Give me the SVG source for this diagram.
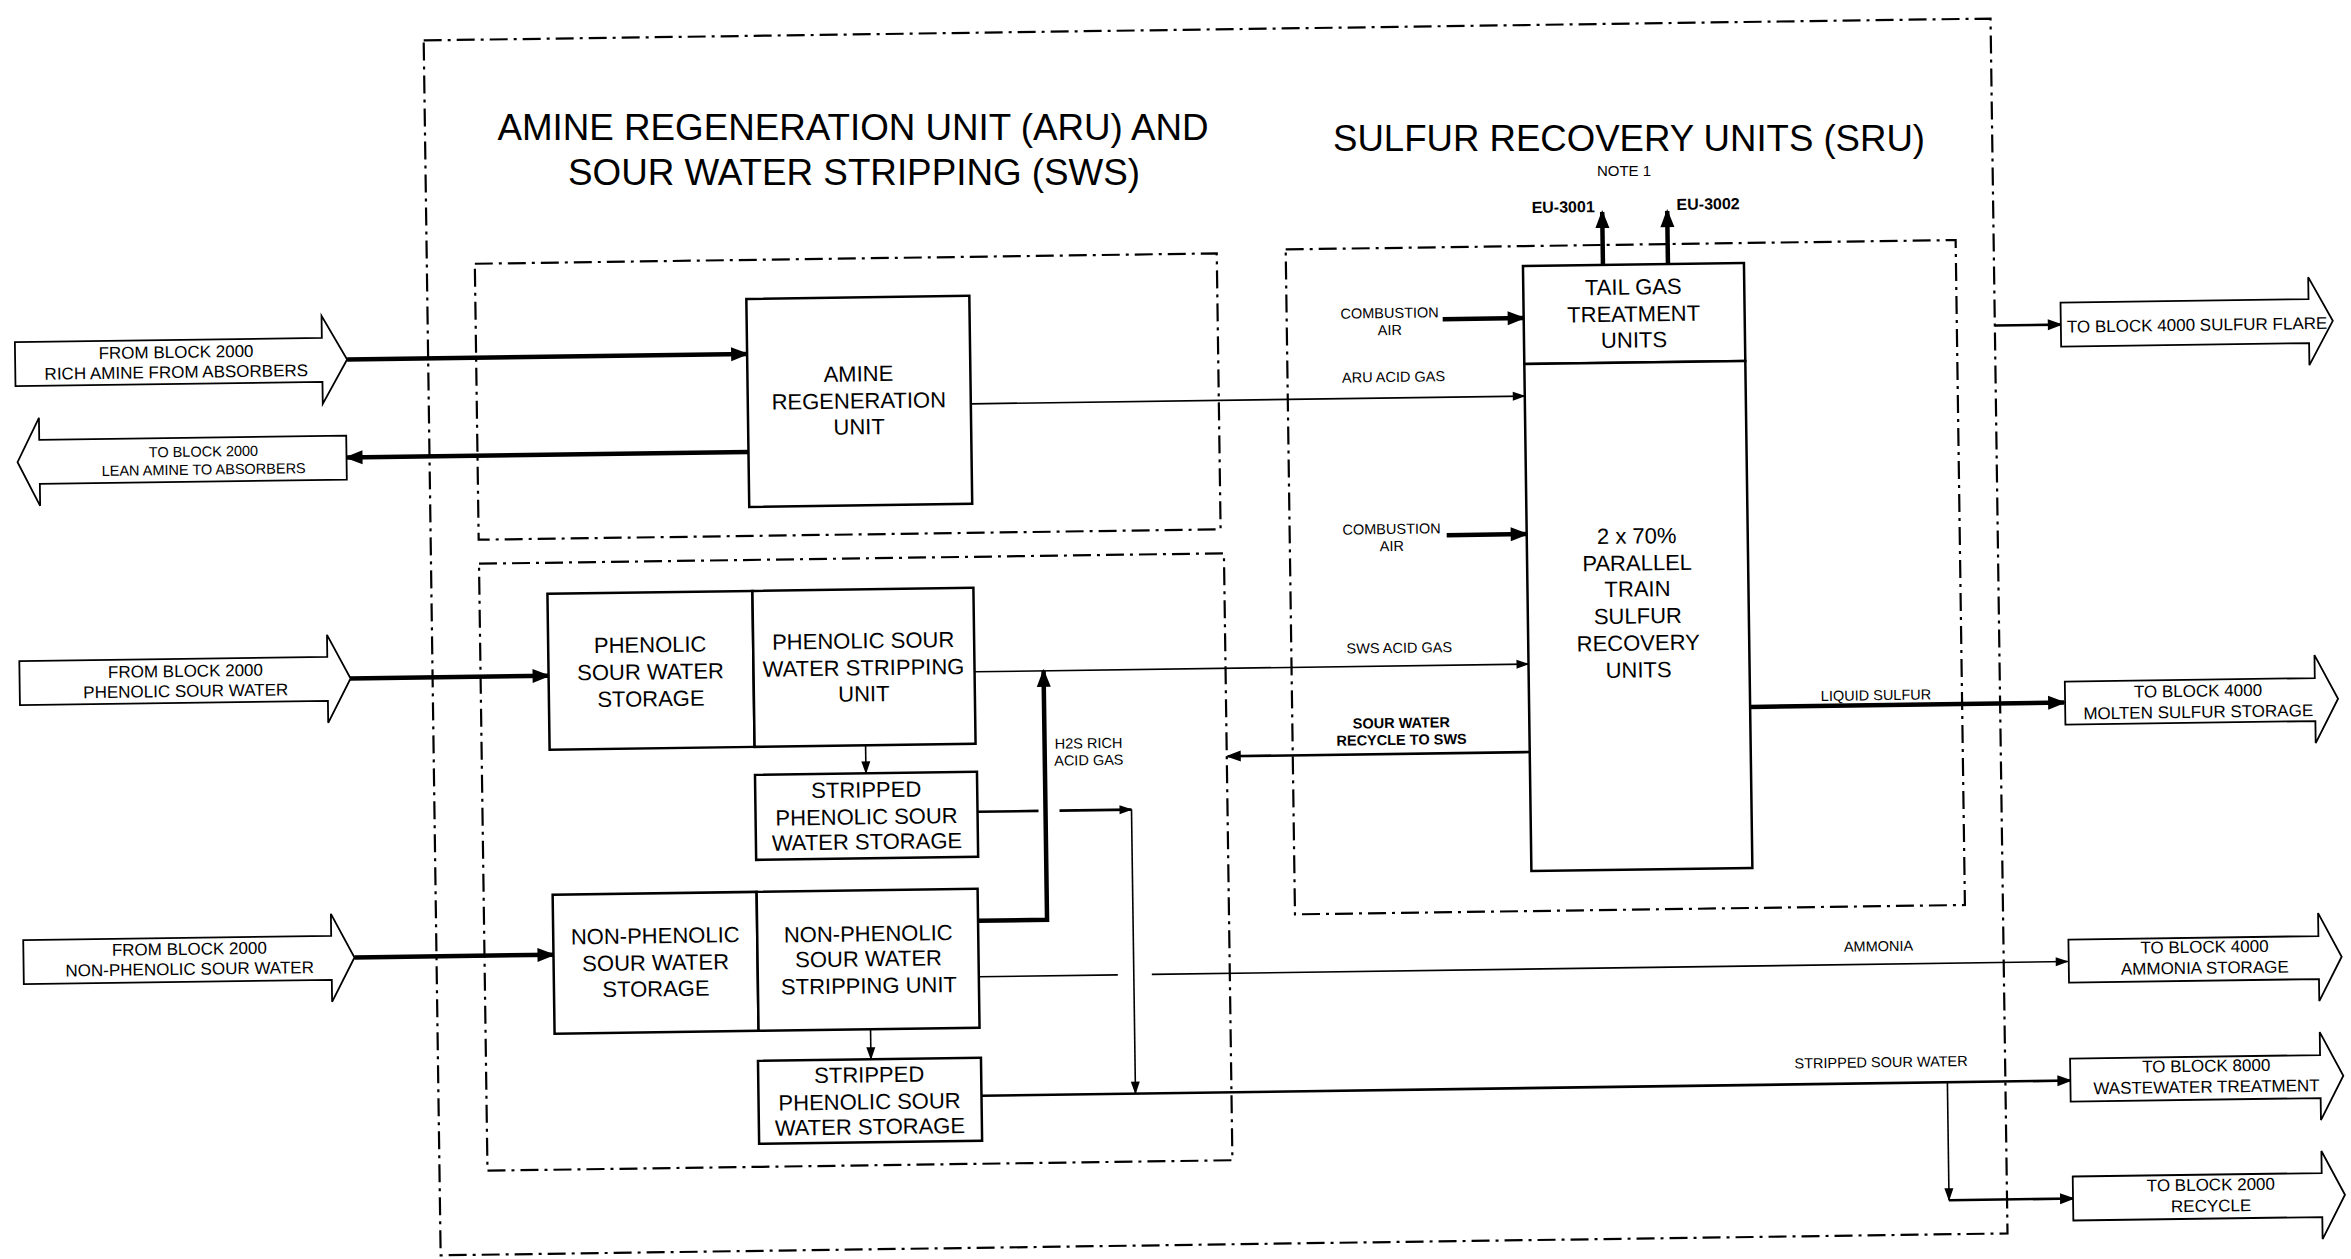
<svg xmlns="http://www.w3.org/2000/svg" width="2351" height="1259" viewBox="0 0 2351 1259">
<style>
.box{fill:#fff;stroke:#000;stroke-width:2.5}
.arr{fill:#fff;stroke:#000;stroke-width:1.8;stroke-linejoin:miter}
.dd{fill:none;stroke:#000;stroke-width:2.2;stroke-dasharray:18 6 3 6}
.thick{fill:none;stroke:#000;stroke-width:4.5}
.med{fill:none;stroke:#000;stroke-width:2.6}
.thin{fill:none;stroke:#000;stroke-width:1.6}
text{font-family:"Liberation Sans",Arial,sans-serif;fill:#000;text-anchor:middle}
.b{font-size:22px}
.a{font-size:17px}
.s{font-size:14.5px}
.sb{font-size:14.5px;font-weight:bold}
.ttl{font-size:37px}
</style>
<defs>
<marker id="hk" markerUnits="userSpaceOnUse" markerWidth="20" markerHeight="14" refX="16" refY="7" orient="auto" overflow="visible"><path d="M0,0 L18,7 L0,14 z" fill="#000"/></marker>
<marker id="hm" markerUnits="userSpaceOnUse" markerWidth="16" markerHeight="11" refX="13" refY="5.5" orient="auto" overflow="visible"><path d="M0,0 L15,5.5 L0,11 z" fill="#000"/></marker>
<marker id="hs" markerUnits="userSpaceOnUse" markerWidth="14" markerHeight="9" refX="12" refY="4.5" orient="auto" overflow="visible"><path d="M0,0 L13,4.5 L0,9 z" fill="#000"/></marker>
</defs>
<rect width="2351" height="1259" fill="#fff"/>
<g id="titles">
<text class="ttl" x="853" y="140" textLength="711" lengthAdjust="spacingAndGlyphs">AMINE REGENERATION UNIT (ARU) AND</text>
<text class="ttl" x="854" y="185" textLength="572" lengthAdjust="spacingAndGlyphs">SOUR WATER STRIPPING (SWS)</text>
<text class="ttl" x="1629" y="151" textLength="592" lengthAdjust="spacingAndGlyphs">SULFUR RECOVERY UNITS (SRU)</text>
<text style="font-size:15px" x="1624" y="176">NOTE 1</text>
</g>
<g id="diagram" transform="rotate(-0.8 1175 630)">
<g id="boundaries">
<rect id="outer-boundary" class="dd" x="432" y="30" width="1567" height="1215"/>
<rect id="aru-boundary" class="dd" x="480" y="254" width="742" height="276"/>
<rect id="sws-boundary" class="dd" x="480" y="554" width="745" height="607"/>
<rect id="sru-boundary" class="dd" x="1291" y="251" width="670" height="665"/>
</g>
<g id="connectors">
<path class="thick" d="M351,348 H751" marker-end="url(#hk)"/>
<path class="thick" d="M751,446 H349" marker-end="url(#hk)"/>
<path class="thick" d="M349,667 H548" marker-end="url(#hk)"/>
<path class="thick" d="M350,946 H549" marker-end="url(#hk)"/>
<path class="thin" d="M974,401 H1528" marker-end="url(#hs)"/>
<path class="thin" d="M974,669 H1528" marker-end="url(#hs)"/>
<path class="thick" d="M1447,323 H1528" marker-end="url(#hk)"/>
<path class="thick" d="M1448,539 H1528" marker-end="url(#hk)"/>
<path class="med" d="M1528,757 H1226" marker-end="url(#hm)"/>
<path class="thick" d="M1749,715 H2063" marker-end="url(#hk)"/>
<path class="med" d="M1999,337 H2065" marker-end="url(#hm)"/>
<path class="thick" d="M1608,271 V218" marker-end="url(#hk)"/>
<path class="thick" d="M1673,271 V218" marker-end="url(#hk)"/>
<path class="thick" d="M974,918 H1043 V669" marker-end="url(#hk)"/>
<path class="thin" d="M864,741 V769" marker-end="url(#hs)"/>
<path class="thin" d="M865,1025 V1055" marker-end="url(#hs)"/>
<path class="med" d="M975,809 H1036"/>
<path class="med" d="M1057,809 H1129" marker-end="url(#hs)"/>
<path class="thin" d="M1129,809 V1093" marker-end="url(#hs)"/>
<path class="thin" d="M974,974 H1113"/>
<path class="thin" d="M1147,974 H2063" marker-end="url(#hs)"/>
<path class="med" d="M975,1093 H2064" marker-end="url(#hm)"/>
<path class="thin" d="M1941,1093 V1211" marker-end="url(#hs)"/>
<path class="med" d="M1941,1211 H2065" marker-end="url(#hm)"/>
<text class="s" x="1394" y="321">COMBUSTION</text>
<text class="s" x="1394" y="338">AIR</text>
<text class="s" x="1397" y="385">ARU ACID GAS</text>
<text class="s" x="1393" y="537">COMBUSTION</text>
<text class="s" x="1393" y="554">AIR</text>
<text class="s" x="1399" y="656">SWS ACID GAS</text>
<text class="sb" x="1400" y="731">SOUR WATER</text>
<text class="sb" x="1400" y="748">RECYCLE TO SWS</text>
<text class="s" x="1087" y="747">H2S RICH</text>
<text class="s" x="1087" y="764">ACID GAS</text>
<text class="s" x="1875" y="710">LIQUID SULFUR</text>
<text class="s" x="1874" y="961">AMMONIA</text>
<text class="s" x="1875" y="1077">STRIPPED SOUR WATER</text>
<text style="font-size:16px;font-weight:bold" x="1569" y="218">EU-3001</text>
<text style="font-size:16px;font-weight:bold" x="1714" y="217">EU-3002</text>
</g>
<g id="node-rich-amine-in">
<polygon class="arr" points="19,326 326,326 326,304 351,348 326,392 326,370 19,370"/>
<text class="a" x="180" y="344">FROM BLOCK 2000</text>
<text class="a" x="180" y="364">RICH AMINE FROM ABSORBERS</text>
</g>
<g id="node-lean-amine-out">
<polygon class="arr" points="349,424 42,424 42,402 20,446 42,490 42,468 349,468"/>
<text style="font-size:14.5px" x="206" y="443">TO BLOCK 2000</text>
<text style="font-size:14.5px" x="206" y="461">LEAN AMINE TO ABSORBERS</text>
</g>
<g id="node-phenolic-in">
<polygon class="arr" points="19,645 327,645 327,623 350,667 327,711 327,689 19,689"/>
<text class="a" x="185" y="663">FROM BLOCK 2000</text>
<text class="a" x="185" y="683">PHENOLIC SOUR WATER</text>
</g>
<g id="node-nonphenolic-in">
<polygon class="arr" points="19,924 327,924 327,902 350,946 327,990 327,968 19,968"/>
<text class="a" x="185" y="941">FROM BLOCK 2000</text>
<text class="a" x="185" y="961">NON-PHENOLIC SOUR WATER</text>
</g>
<g id="node-amine-regen">
<rect class="box" x="751" y="293" width="223" height="208"/>
<text class="b" x="862" y="377">AMINE</text>
<text class="b" x="862" y="404">REGENERATION</text>
<text class="b" x="862" y="430">UNIT</text>
</g>
<g id="node-phenolic-storage">
<rect class="box" x="548" y="585" width="205" height="156"/>
<text class="b" x="650" y="645">PHENOLIC</text>
<text class="b" x="650" y="672">SOUR WATER</text>
<text class="b" x="650" y="699">STORAGE</text>
</g>
<g id="node-phenolic-stripper">
<rect class="box" x="753" y="585" width="221" height="156"/>
<text class="b" x="863" y="644">PHENOLIC SOUR</text>
<text class="b" x="863" y="671">WATER STRIPPING</text>
<text class="b" x="863" y="697">UNIT</text>
</g>
<g id="node-stripped-phenolic-1">
<rect class="box" x="753" y="769" width="222" height="85"/>
<text class="b" x="864" y="793">STRIPPED</text>
<text class="b" x="864" y="820">PHENOLIC SOUR</text>
<text class="b" x="864" y="845">WATER STORAGE</text>
</g>
<g id="node-nonphenolic-storage">
<rect class="box" x="549" y="886" width="204" height="139"/>
<text class="b" x="651" y="936">NON-PHENOLIC</text>
<text class="b" x="651" y="963">SOUR WATER</text>
<text class="b" x="651" y="989">STORAGE</text>
</g>
<g id="node-nonphenolic-stripper">
<rect class="box" x="753" y="886" width="221" height="139"/>
<text class="b" x="864" y="937">NON-PHENOLIC</text>
<text class="b" x="864" y="962">SOUR WATER</text>
<text class="b" x="864" y="989">STRIPPING UNIT</text>
</g>
<g id="node-stripped-phenolic-2">
<rect class="box" x="752" y="1055" width="223" height="83"/>
<text class="b" x="863" y="1078">STRIPPED</text>
<text class="b" x="863" y="1105">PHENOLIC SOUR</text>
<text class="b" x="863" y="1130">WATER STORAGE</text>
</g>
<g id="node-tail-gas">
<rect class="box" x="1528" y="271" width="221" height="98"/>
<text class="b" x="1638" y="301">TAIL GAS</text>
<text class="b" x="1638" y="328">TREATMENT</text>
<text class="b" x="1638" y="354">UNITS</text>
</g>
<g id="node-sru">
<rect class="box" x="1528" y="369" width="221" height="507"/>
<text class="b" x="1638" y="550">2 x 70%</text>
<text class="b" x="1638" y="577">PARALLEL</text>
<text class="b" x="1638" y="603">TRAIN</text>
<text class="b" x="1638" y="630">SULFUR</text>
<text class="b" x="1638" y="657">RECOVERY</text>
<text class="b" x="1638" y="684">UNITS</text>
</g>
<g id="node-sulfur-flare">
<polygon class="arr" points="2065,315 2313,315 2313,293 2337,337 2313,381 2313,359 2065,359"/>
<text class="a" x="2071" y="345" style="text-anchor:start">TO BLOCK 4000 SULFUR FLARE</text>
</g>
<g id="node-molten-sulfur">
<polygon class="arr" points="2064,694 2314,694 2314,671 2337,715 2314,759 2314,737 2064,737"/>
<text class="a" x="2197" y="711">TO BLOCK 4000</text>
<text class="a" x="2197" y="732">MOLTEN SULFUR STORAGE</text>
</g>
<g id="node-ammonia-storage">
<polygon class="arr" points="2064,952 2314,952 2314,929 2337,973 2314,1017 2314,995 2064,995"/>
<text class="a" x="2200" y="967">TO BLOCK 4000</text>
<text class="a" x="2200" y="988">AMMONIA STORAGE</text>
</g>
<g id="node-wastewater">
<polygon class="arr" points="2064,1071 2314,1071 2314,1048 2337,1092 2314,1136 2314,1114 2064,1114"/>
<text class="a" x="2200" y="1086">TO BLOCK 8000</text>
<text class="a" x="2200" y="1107">WASTEWATER TREATMENT</text>
</g>
<g id="node-recycle">
<polygon class="arr" points="2065,1189 2314,1189 2314,1167 2337,1211 2314,1255 2314,1233 2065,1233"/>
<text class="a" x="2203" y="1205">TO BLOCK 2000</text>
<text class="a" x="2203" y="1226">RECYCLE</text>
</g>
</g>
</svg>
